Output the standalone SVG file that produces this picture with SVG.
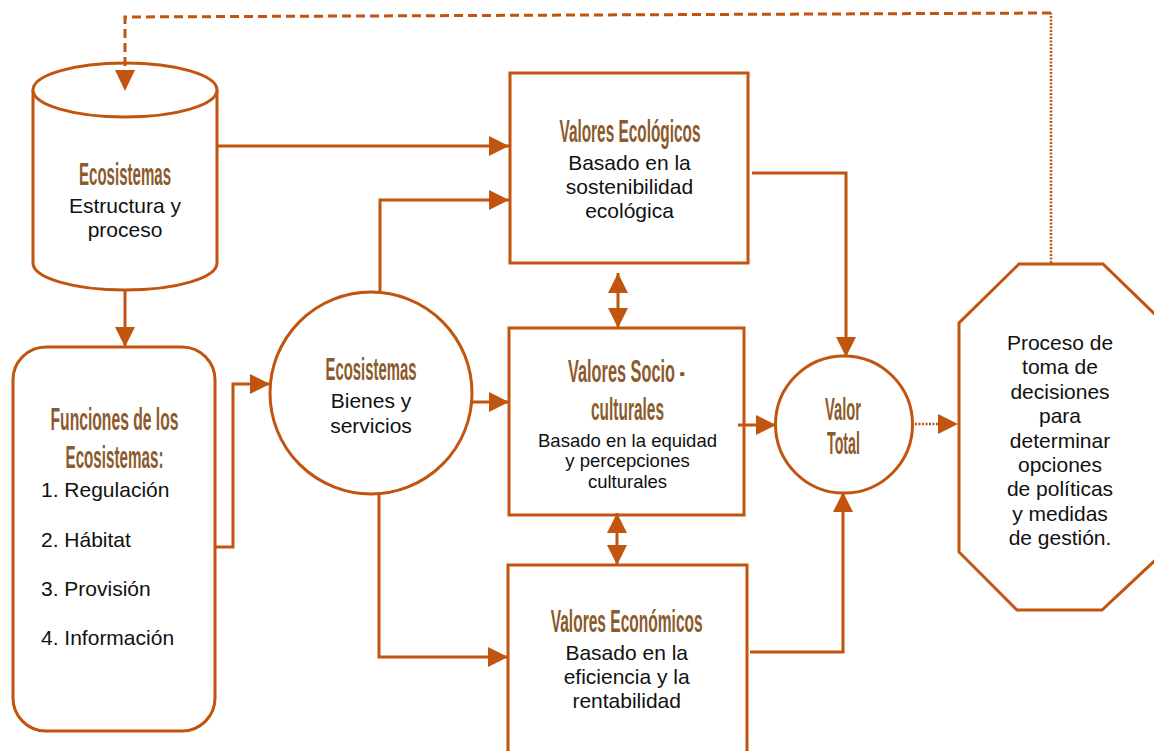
<svg xmlns="http://www.w3.org/2000/svg" width="1154" height="751" viewBox="0 0 1154 751">
<style>
.s{fill:#fff;stroke:#C1540E;stroke-width:3}
.c{fill:none;stroke:#C1540E;stroke-width:3}
.dash{fill:none;stroke:#C1540E;stroke-width:3;stroke-dasharray:9 5}
.dot{fill:none;stroke:#C1540E;stroke-width:2.5;stroke-dasharray:2 1.5}
.t{font-family:"Liberation Sans",Arial,sans-serif;font-size:21px;fill:#111;text-anchor:middle}
.ts{font-family:"Liberation Sans",Arial,sans-serif;font-size:18.5px;fill:#111;text-anchor:middle}
.tl{font-family:"Liberation Sans",Arial,sans-serif;font-size:21px;fill:#111}
.h{font-family:"Liberation Sans",Arial,sans-serif;font-size:31px;font-weight:bold;fill:#8C5B2C;text-anchor:middle}
</style>
<defs>
<marker id="a" viewBox="0 0 20 20" refX="20" refY="10" markerWidth="20" markerHeight="20" markerUnits="userSpaceOnUse" orient="auto-start-reverse">
<path d="M0,0 L20,10 L0,20 Z" fill="#C1540E"/>
</marker>
</defs>
<rect width="1154" height="751" fill="#fff"/>

<g id="ecosistemas-estructura">
<path class="s" d="M33,90 V263 A92,27 0 0 0 217,263 V90"/>
<ellipse class="s" cx="125" cy="90" rx="92" ry="27"/>
<text class="h" x="125" y="185" textLength="92" lengthAdjust="spacingAndGlyphs">Ecosistemas</text>
<text class="t" x="125" y="213">Estructura y</text>
<text class="t" x="125" y="237">proceso</text>
</g>

<g id="funciones">
<rect class="s" x="13" y="347" width="202" height="384" rx="33"/>
<text class="h" x="114.5" y="430" textLength="128" lengthAdjust="spacingAndGlyphs">Funciones de los</text>
<text class="h" x="114.5" y="468" textLength="98" lengthAdjust="spacingAndGlyphs">Ecosistemas:</text>
<text class="tl" x="41" y="497">1. Regulación</text>
<text class="tl" x="41" y="547">2. Hábitat</text>
<text class="tl" x="41" y="596">3. Provisión</text>
<text class="tl" x="41" y="645">4. Información</text>
</g>

<g id="bienes">
<circle class="s" cx="371" cy="393" r="101"/>
<text class="h" x="371" y="380" textLength="91" lengthAdjust="spacingAndGlyphs">Ecosistemas</text>
<text class="t" x="371" y="408">Bienes y</text>
<text class="t" x="371" y="433">servicios</text>
</g>

<g id="ecologicos">
<rect class="s" x="510" y="73" width="238" height="190"/>
<text class="h" x="630" y="142" textLength="141" lengthAdjust="spacingAndGlyphs">Valores Ecológicos</text>
<text class="t" x="629.5" y="170">Basado en la</text>
<text class="t" x="629.5" y="194">sostenibilidad</text>
<text class="t" x="629.5" y="218">ecológica</text>
</g>

<g id="socioculturales">
<rect class="s" x="509" y="328" width="235" height="187"/>
<text class="h" x="626.5" y="382" textLength="117" lengthAdjust="spacingAndGlyphs">Valores Socio -</text>
<text class="h" x="627.5" y="420" textLength="73" lengthAdjust="spacingAndGlyphs">culturales</text>
<text class="ts" x="627.5" y="447">Basado en la equidad</text>
<text class="ts" x="627.5" y="467">y percepciones</text>
<text class="ts" x="627.5" y="488">culturales</text>
</g>

<g id="economicos">
<rect class="s" x="508" y="565" width="239" height="200"/>
<text class="h" x="626.7" y="632" textLength="152" lengthAdjust="spacingAndGlyphs">Valores Económicos</text>
<text class="t" x="626.7" y="660">Basado en la</text>
<text class="t" x="626.7" y="684">eficiencia y la</text>
<text class="t" x="626.7" y="708">rentabilidad</text>
</g>

<g id="valor-total">
<circle class="s" cx="844" cy="424.5" r="68.5"/>
<text class="h" x="843" y="420" textLength="36" lengthAdjust="spacingAndGlyphs">Valor</text>
<text class="h" x="843.5" y="454" textLength="33" lengthAdjust="spacingAndGlyphs">Total</text>
</g>

<g id="decisiones">
<polygon class="s" points="1019,264 1103,264 1164,323 1164,552 1102,610 1017,610 959,552 959,323"/>
<text class="t" x="1060" y="350">Proceso de</text>
<text class="t" x="1060" y="374.4">toma de</text>
<text class="t" x="1060" y="398.8">decisiones</text>
<text class="t" x="1060" y="423.2">para</text>
<text class="t" x="1060" y="447.6">determinar</text>
<text class="t" x="1060" y="472">opciones</text>
<text class="t" x="1060" y="496.4">de políticas</text>
<text class="t" x="1060" y="520.8">y medidas</text>
<text class="t" x="1060" y="545.2">de gestión.</text>
</g>

<g id="connectors">
<path class="dot" d="M1051,263 V13"/>
<path class="dash" d="M1051,13 L125,17 V72"/>
<path d="M115,70 L135,70 L125,91 Z" fill="#C1540E"/>
<path class="c" d="M217,146 H509" marker-end="url(#a)"/>
<path class="c" d="M125,290 V347" marker-end="url(#a)"/>
<path class="c" d="M215,547 H233 V384 H270" marker-end="url(#a)"/>
<path class="c" d="M380,293 V200 H509" marker-end="url(#a)"/>
<path class="c" d="M472,402 H509" marker-end="url(#a)"/>
<path class="c" d="M379,493 V657 H508" marker-end="url(#a)"/>
<path class="c" d="M618,273 V328" marker-start="url(#a)" marker-end="url(#a)"/>
<path class="c" d="M617,513 V565" marker-start="url(#a)" marker-end="url(#a)"/>
<path class="c" d="M752,173 H846 V357" marker-end="url(#a)"/>
<path class="c" d="M738,425 H776" marker-end="url(#a)"/>
<path class="c" d="M750,652 H843 V492" marker-end="url(#a)"/>
<path class="dot" d="M915,424 H940"/>
<path d="M938,414 L958,424 L938,434 Z" fill="#C1540E"/>
</g>
</svg>
